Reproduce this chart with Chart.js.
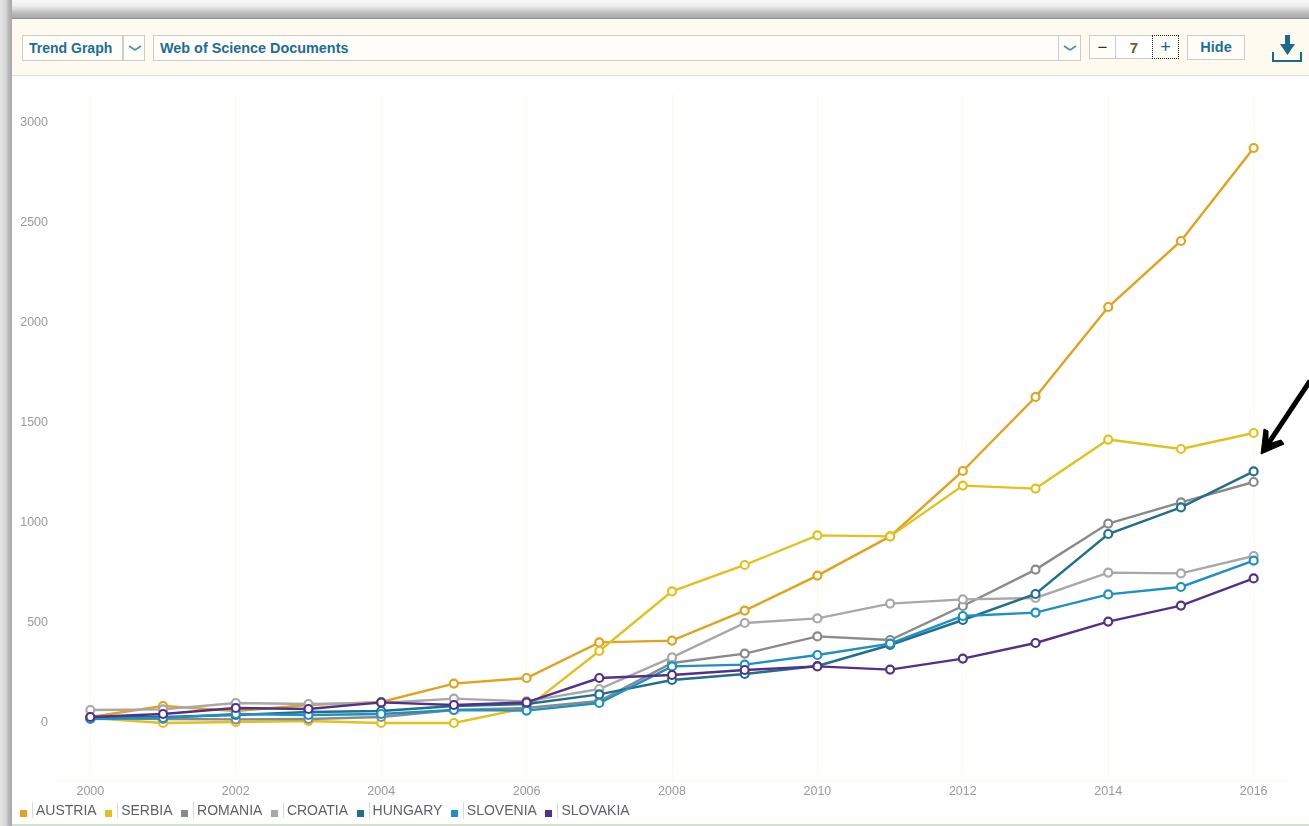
<!DOCTYPE html>
<html>
<head>
<meta charset="utf-8">
<title>Trend Graph</title>
<script src="https://cdn.jsdelivr.net/npm/chart.js@4"></script>
<style>
  html, body { margin: 0; padding: 0; background: #fff; overflow: hidden; }
  body { width: 1309px; height: 826px; position: relative; font-family: "Liberation Sans", Arial, sans-serif; }
  .edge-top { position: absolute; left: 0; top: 0; width: 1309px; height: 19px; background: linear-gradient(#f8f8f8 0, #ececec 6px, #d8d8d8 9px, #b6b6b6 14px, #a8a8a8 18px, #777 19px); }
  .edge-left { position: absolute; left: 0; top: 0; width: 12px; height: 826px; background: linear-gradient(90deg, #e4e4e4 0, #d4d4d4 6px, #b4b4b4 9px, #a8a8a8 12px); }
  .toolbar { position: absolute; left: 12px; top: 19px; width: 1297px; height: 56px; background: #fffaf0; border-bottom: 1px solid #d4e4d0; }
  .box { position: absolute; top: 35px; height: 24px; box-sizing: border-box; border: 1px solid #ccc; background: #fffdf8; color: #1c6e96; font-weight: bold; font-size: 14px; line-height: 23px; }
  .caret { position: absolute; top: 35px; height: 26px; box-sizing: border-box; border: 1px solid #ccc; background: #fffdf8; }
  .caret svg { position: absolute; left: 4px; top: 9px; }
  canvas { position: absolute; left: 0; top: 0; }
  .legend { position: absolute; left: 18px; top: 802px; height: 18px; display: flex; font-size: 14px; color: #5f5f6b; line-height: 16px; }
  .legend-item { display: flex; align-items: flex-start; margin-right: 6.5px; }
  .legend-dot { width: 7px; height: 7px; margin: 8px 5px 0 2px; }
  .legend-label { border-left: 1px solid #cfe3cf; padding-left: 3px; height: 16px; }
  .footer-line { position: absolute; left: 12px; top: 824px; width: 1297px; height: 2px; background: #cfe3cf; }
</style>
</head>
<body>
<div class="edge-top"></div>
<div class="edge-left"></div>
<div class="toolbar"></div>

<div class="box" style="left:22px;width:101px;padding-left:6px;height:26px;line-height:24px">Trend Graph</div>
<div class="caret" style="left:123px;width:22px"><svg width="14" height="8"><path d="M1 1 L7 5 L13 1" fill="none" stroke="#4a90b8" stroke-width="1.6"/></svg></div>
<div class="box" style="left:153px;width:906px;padding-left:6px;height:26px;line-height:24px;font-size:14.4px">Web of Science Documents</div>
<div class="caret" style="left:1058px;width:23px"><svg width="14" height="8"><path d="M1 1 L7 5 L13 1" fill="none" stroke="#4a90b8" stroke-width="1.6"/></svg></div>
<div class="box" style="left:1089px;width:27px;text-align:center;font-size:17px;font-weight:normal;color:#333">&minus;</div>
<div class="box" style="left:1115px;width:38px;text-align:center;background:#fff;color:#6b5a3c;font-size:15px">7</div>
<div class="box" style="left:1152px;width:27px;text-align:center;font-size:18px;font-weight:normal;color:#1c5f96;border:1px dotted #222">+</div>
<div class="box" style="left:1187px;width:58px;text-align:center;height:25px;font-size:14.5px">Hide</div>
<svg style="position:absolute;left:0;top:0" width="1309" height="80">
  <path d="M1285 35 H1290 V44 H1295 L1287.5 55 L1280 44 H1285 Z" fill="#1b6a8e"/>
  <path d="M1273 52 V61 H1301 V52" fill="none" stroke="#1b6a8e" stroke-width="2"/>
</svg>

<canvas id="chart-trend" width="1309" height="826"></canvas>

<div class="legend" id="trend-legend"></div>
<div class="footer-line"></div>

<svg style="position:absolute;left:0;top:0;pointer-events:none" width="1309" height="826">
  <path d="M1310 381 L1266 447" stroke="#000" stroke-width="5" fill="none"/>
  <path d="M1261 454 L1264 429 L1268 431 L1268 444 L1281 440 L1284 444 Z" fill="#000" stroke="#000" stroke-width="1"/>
</svg>

<script>
// ===== DATA =====
const years = ['2000','2001','2002','2003','2004','2005','2006','2007','2008','2009','2010','2011','2012','2013','2014','2015','2016'];
const yTicks = [0, 500, 1000, 1500, 2000, 2500, 3000];

const austria  = [30, 85, 60, 90, 105, 197, 225, 403, 412, 562, 737, 933, 1260, 1630, 2080, 2410, 2875];
const serbia   = [25, 0, 5, 10, 0, 0, 75, 360, 658, 790, 938, 933, 1187, 1172, 1417, 1370, 1450];
const romania  = [25, 20, 18, 20, 30, 65, 75, 110, 300, 347, 433, 415, 585, 767, 997, 1103, 1205];
const croatia  = [65, 68, 100, 95, 100, 122, 108, 170, 328, 500, 523, 597, 618, 625, 752, 748, 835];
const hungary  = [28, 30, 40, 55, 60, 85, 95, 143, 215, 245, 285, 390, 515, 645, 945, 1078, 1258];
const slovenia = [20, 25, 45, 40, 45, 65, 62, 100, 283, 292, 340, 397, 535, 552, 643, 680, 812];
const slovakia = [30, 45, 75, 70, 103, 90, 103, 225, 240, 265, 283, 267, 322, 400, 507, 587, 723];

const names  = ['AUSTRIA','SERBIA','ROMANIA','CROATIA','HUNGARY','SLOVENIA','SLOVAKIA'];
const values = [austria, serbia, romania, croatia, hungary, slovenia, slovakia];
const colors = ['#e2a21b','#e3c01c','#8a8a8a','#a8a8a8','#1f6f8f','#1d90c4','#54308c'];

// ===== CHART =====
const datasets = names.map((n, i) => ({
  label: n,
  data: values[i],
  borderColor: colors[i],
  backgroundColor: '#fff',
  borderWidth: 2.4,
  pointRadius: 4,
  pointBorderWidth: 2.2,
  pointBackgroundColor: '#fff',
  pointBorderColor: colors[i],
  tension: 0,
  order: names.length - i
}));

new Chart(document.getElementById('chart-trend'), {
  type: 'line',
  data: { labels: years, datasets },
  options: {
    responsive: false,
    animation: false,
    layout: { padding: { left: 54, top: 93, right: 19, bottom: 23 } },
    plugins: { legend: { display: false }, tooltip: { enabled: false } },
    scales: {
      x: {
        offset: true,
        border: { display: true, color: '#fff8e8' },
        grid: { color: '#fff8e8', drawTicks: false, offset: false,
                lineWidth: ctx => (ctx.index % 2 === 0 ? 1 : 0) },
        ticks: { color: '#9a9a9a', font: { family: 'Liberation Sans', size: 12.5 }, padding: 4,
                 maxRotation: 0, autoSkip: false,
                 callback: (v, i) => (i % 2 === 0 ? years[i] : '') }
      },
      y: {
        min: -285,
        max: 3150,
        position: 'left',
        afterBuildTicks: axis => { axis.ticks = yTicks.map(v => ({ value: v })); },
        afterFit: axis => { axis.width = 0; },
        border: { display: false },
        grid: { display: false },
        ticks: { display: false }
      }
    }
  },
  plugins: [{
    // y labels sit left of the plot area, inside the layout padding
    id: 'yLabels',
    afterDraw(chart) {
      const c = chart.ctx, sc = chart.scales.y;
      c.save();
      c.font = '12.5px "Liberation Sans"';
      c.fillStyle = '#9a9a9a';
      c.textAlign = 'right';
      c.textBaseline = 'middle';
      yTicks.forEach(v => c.fillText(String(v), 48, sc.getPixelForValue(v)));
      c.restore();
    }
  }]
});

// Custom legend
document.getElementById('trend-legend').innerHTML = names.map((n, i) =>
  `<div class="legend-item"><div class="legend-dot" style="background:${colors[i]}"></div><span class="legend-label">${n}</span></div>`
).join('');
</script>
</body>
</html>
